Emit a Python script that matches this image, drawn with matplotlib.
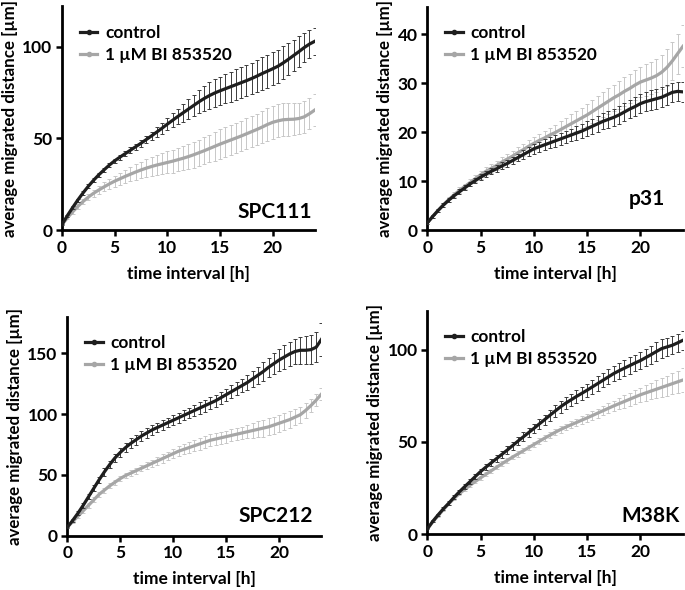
import numpy as np
import matplotlib
matplotlib.use("Agg")
import matplotlib.pyplot as plt
from matplotlib.lines import Line2D

plt.rcParams['font.family'] = ['Lato', 'DejaVu Sans']
plt.rcParams['font.weight'] = 'bold'

time_h = [i * 0.5 for i in range(49)]

spc111_ctrl = [3, 7.8, 12.2, 16.4, 20.3, 23.9, 27.2, 30.2, 32.9, 35.5,
               37.8, 39.8, 41.7, 43.6, 45.5, 47.4, 49.4, 51.4, 53.5, 55.6,
               57.8, 59.9, 62.0, 64.0, 66.0, 68.0, 70.0, 71.8, 73.4, 74.8,
               76.0, 77.1, 78.2, 79.3, 80.4, 81.5, 82.7, 84.0, 85.4, 86.7,
               88.0, 89.4, 91.2, 93.2, 95.3, 97.4, 99.6, 101.5, 103.0]
spc111_ctrl_err = [0.3, 0.5, 0.7, 0.8, 0.9, 1.0, 1.0, 1.1, 1.1, 1.2,
                   1.2, 1.3, 1.4, 1.5, 1.6, 1.8, 2.0, 2.3, 2.6, 3.0,
                   3.4, 3.8, 4.3, 4.8, 5.3, 5.8, 6.3, 6.8, 7.2, 7.5,
                   7.8, 8.0, 8.2, 8.4, 8.5, 8.6, 8.7, 8.8, 8.9, 9.0,
                   9.0, 9.0, 9.0, 8.8, 8.6, 8.3, 8.0, 7.7, 7.5]
spc111_bi = [3, 6.6, 9.9, 12.9, 15.6, 18.0, 20.1, 21.9, 23.6, 25.2,
             26.7, 28.0, 29.3, 30.5, 31.7, 32.8, 33.8, 34.7, 35.5, 36.2,
             36.9, 37.6, 38.4, 39.2, 40.1, 41.1, 42.2, 43.3, 44.5, 45.7,
             46.9, 48.0, 49.1, 50.2, 51.3, 52.5, 53.7, 54.9, 56.2, 57.6,
             58.8, 59.6, 60.2, 60.4, 60.5, 60.9, 61.8, 63.5, 65.5]
spc111_bi_err = [0.3, 0.6, 0.9, 1.2, 1.5, 1.8, 2.0, 2.2, 2.5, 2.8,
                 3.0, 3.3, 3.6, 3.9, 4.2, 4.5, 4.8, 5.1, 5.4, 5.7,
                 6.0, 6.2, 6.4, 6.6, 6.8, 7.0, 7.2, 7.4, 7.6, 7.8,
                 8.0, 8.1, 8.2, 8.3, 8.4, 8.5, 8.6, 8.7, 8.8, 8.9,
                 9.0, 9.0, 9.0, 8.9, 8.8, 8.7, 8.6, 8.6, 8.5]

p31_ctrl = [1.5, 2.8, 4.0, 5.1, 6.1, 7.0, 7.8, 8.6, 9.4, 10.1,
            10.8, 11.4, 12.0, 12.5, 13.1, 13.6, 14.2, 14.8, 15.4, 16.0,
            16.6, 17.0, 17.4, 17.8, 18.2, 18.6, 19.0, 19.4, 19.8, 20.2,
            20.7, 21.2, 21.7, 22.2, 22.6, 23.0, 23.5, 24.1, 24.7, 25.2,
            25.8, 26.2, 26.5, 26.8, 27.1, 27.6, 28.1, 28.3, 28.2]
p31_ctrl_err = [0.2, 0.3, 0.3, 0.4, 0.4, 0.4, 0.5, 0.5, 0.5, 0.5,
                0.6, 0.6, 0.6, 0.7, 0.7, 0.7, 0.8, 0.8, 0.9, 0.9,
                1.0, 1.0, 1.1, 1.1, 1.2, 1.2, 1.3, 1.3, 1.4, 1.4,
                1.5, 1.5, 1.6, 1.6, 1.7, 1.7, 1.8, 1.8, 1.9, 1.9,
                2.0, 2.0, 2.0, 2.0, 2.0, 2.0, 2.0, 2.0, 2.0]
p31_bi = [1.5, 2.8, 4.0, 5.2, 6.2, 7.2, 8.1, 8.9, 9.7, 10.5,
          11.3, 12.0, 12.6, 13.2, 13.9, 14.5, 15.1, 15.8, 16.4, 17.1,
          17.7, 18.3, 18.8, 19.4, 19.9, 20.5, 21.1, 21.7, 22.3, 22.9,
          23.5, 24.2, 24.9, 25.6, 26.3, 27.0, 27.6, 28.3, 28.9, 29.6,
          30.2, 30.6, 31.0, 31.5, 32.2, 33.2, 34.5, 36.0, 37.5]
p31_bi_err = [0.2, 0.3, 0.4, 0.4, 0.5, 0.5, 0.6, 0.6, 0.7, 0.7,
              0.8, 0.8, 0.9, 0.9, 1.0, 1.0, 1.1, 1.1, 1.2, 1.2,
              1.3, 1.3, 1.4, 1.5, 1.6, 1.7, 1.8, 1.9, 2.0, 2.1,
              2.2, 2.3, 2.4, 2.5, 2.6, 2.7, 2.8, 2.9, 3.0, 3.0,
              3.1, 3.2, 3.3, 3.4, 3.5, 3.7, 3.9, 4.1, 4.3]

spc212_ctrl = [7, 12.5, 18.5, 25, 32, 39, 46, 52.5, 58.5, 64,
               68.5, 72.5, 76, 79, 82, 84.5, 87, 89, 91, 93,
               95, 97, 99, 101, 103, 105, 107, 109, 111, 113.5,
               116, 118.5, 121, 123.5, 126, 129, 132, 135, 138.5, 141.5,
               144.5, 147, 149.5, 151.5, 152.5, 152.5, 153, 155, 161.5]
spc212_ctrl_err = [0.5, 1, 1.5, 2, 2, 2.5, 2.5, 3, 3, 3.5,
                   3.5, 4, 4, 4, 4, 4, 4, 4, 4, 4,
                   4, 4, 4.2, 4.4, 4.6, 4.8, 5, 5, 5, 5,
                   5, 5.2, 5.4, 5.6, 6, 6.5, 7, 7.5, 8, 8.5,
                   9, 9.5, 10, 10.5, 11, 11.5, 12, 12.5, 13.5]
spc212_bi = [7, 11.5, 16, 20.5, 25, 29.5, 34, 37.5, 41, 44,
             47, 49.5, 51.5, 53.5, 55.5, 57.5, 59.5, 61.5, 63.5, 65.5,
             67.5, 69.5, 71, 72.5, 74, 75.5, 77, 78.5, 79.5, 80.5,
             81.5, 82.5, 83.5, 84.5, 85.5, 86.5, 87.5, 88.5, 89.5, 91,
             92.5, 94, 95.5, 97.5, 99.5, 103, 107, 111.5, 116.5]
spc212_bi_err = [0.5, 1, 1.5, 2, 2, 2, 2, 2, 2, 2,
                 2, 2, 2.2, 2.4, 2.6, 2.8, 3, 3.2, 3.4, 3.6,
                 3.8, 4, 4.2, 4.4, 4.6, 4.8, 5, 5, 5, 5,
                 5, 5, 5, 5.2, 5.5, 6, 6.5, 7, 7, 7,
                 7, 7, 7, 6.8, 6.5, 6, 5.5, 5, 5]

m38k_ctrl = [3, 7, 10.5, 13.8, 16.8, 20, 23, 25.8, 28.5, 31.3,
             34, 36.4, 38.7, 41, 43.3, 45.6, 48, 50.4, 52.7, 55,
             57.3, 59.7, 62, 64.4, 66.7, 69, 71, 72.8, 74.6, 76.3,
             78, 79.8, 81.6, 83.4, 85.2, 87, 88.5, 89.9, 91.3, 92.7,
             94, 95.6, 97.2, 98.9, 100.5, 101.4, 102.3, 103.6, 105]
m38k_ctrl_err = [0.2, 0.5, 0.7, 0.9, 1, 1.1, 1.2, 1.3, 1.4, 1.5,
                 1.6, 1.7, 1.8, 1.9, 2, 2.1, 2.2, 2.3, 2.4, 2.5,
                 2.6, 2.7, 2.8, 2.9, 3, 3.1, 3.2, 3.3, 3.4, 3.5,
                 3.6, 3.7, 3.8, 3.9, 4, 4.1, 4.2, 4.3, 4.4, 4.5,
                 4.6, 4.7, 4.8, 4.9, 5, 5, 5, 5, 5]
m38k_bi = [3, 6.8, 10, 13.4, 16.5, 19.4, 22, 24.3, 26.5, 28.6,
           30.6, 32.5, 34.4, 36.3, 38.2, 40, 41.8, 43.5, 45.2, 46.9,
           48.6, 50.3, 52, 53.6, 55.2, 56.7, 58, 59.3, 60.5, 61.8,
           63, 64.3, 65.6, 66.9, 68.2, 69.5, 70.7, 71.9, 73.1, 74.3,
           75.5, 76.5, 77.5, 78.5, 79.5, 80.5, 81.5, 82.5, 83.5]
m38k_bi_err = [0.2, 0.4, 0.6, 0.7, 0.8, 0.9, 1, 1, 1, 1,
               1, 1.1, 1.1, 1.2, 1.2, 1.3, 1.3, 1.4, 1.4, 1.5,
               1.5, 1.6, 1.6, 1.7, 1.7, 1.8, 1.8, 1.9, 2, 2.1,
               2.2, 2.3, 2.4, 2.5, 2.7, 2.9, 3.1, 3.3, 3.5, 3.7,
               3.9, 4.2, 4.5, 4.8, 5.1, 5.4, 5.7, 6, 6.3]

panel_names = ["SPC111", "p31", "SPC212", "M38K"]
series_labels = ["control", "1 µM BI 853520"]
x_ticks = [0, 5, 10, 15, 20]
y_ticks = [[0, 50, 100], [0, 10, 20, 30, 40], [0, 50, 100, 150], [0, 50, 100]]
y_max = [122, 45.5, 180, 121]

panels = [
    (spc111_ctrl, spc111_ctrl_err, spc111_bi, spc111_bi_err),
    (p31_ctrl, p31_ctrl_err, p31_bi, p31_bi_err),
    (spc212_ctrl, spc212_ctrl_err, spc212_bi, spc212_bi_err),
    (m38k_ctrl, m38k_ctrl_err, m38k_bi, m38k_bi_err),
]

# axes rectangles in figure fractions [left, bottom, width, height]
rects = [
    [0.0905, 0.610, 0.369, 0.379],
    [0.624, 0.610, 0.373, 0.378],
    [0.0983, 0.092, 0.371, 0.371],
    [0.624, 0.0944, 0.373, 0.379],
]
name_pos = [(0.988, 0.054), (0.93, 0.112), (0.966, 0.064), (0.988, 0.056)]

ctrl_color = "#1e1e1e"
ctrl_err_color = "#3c3c3c"
bi_color = "#a6a6a6"
bi_err_color = "#c8c8c8"

fig = plt.figure(figsize=(6.85, 5.9), dpi=100)
for k, (name, data, rect) in enumerate(zip(panel_names, panels, rects)):
    ctrl, ctrl_err, bi, bi_err = data
    ax = fig.add_axes(rect)
    t = np.array(time_h)
    ax.errorbar(t, bi, yerr=bi_err, color=bi_color, ecolor=bi_err_color,
                elinewidth=0.7, capsize=1.6, capthick=0.7, lw=2.3, zorder=2)
    ax.errorbar(t, ctrl, yerr=ctrl_err, color=ctrl_color, ecolor=ctrl_err_color,
                elinewidth=0.7, capsize=1.6, capthick=0.7, lw=2.3, zorder=3)
    ax.set_xlim(0, 24)
    ax.set_ylim(0, y_max[k])
    ax.set_xticks(x_ticks)
    ax.set_yticks(y_ticks[k])
    for s in ['top', 'right']:
        ax.spines[s].set_visible(False)
    for s in ['left', 'bottom']:
        ax.spines[s].set_linewidth(2.0)
    ax.tick_params(axis='both', direction='out', length=4, width=1.8,
                   labelsize=12.5, pad=3)
    for lab in ax.get_xticklabels() + ax.get_yticklabels():
        lab.set_fontweight('bold')
    ax.set_xlabel("time interval [h]", fontsize=12.5, fontweight='bold', labelpad=7)
    ax.set_ylabel("average migrated distance [µm]", fontsize=12.2,
                  fontweight='bold', labelpad=3)
    ax.text(name_pos[k][0], name_pos[k][1], name, transform=ax.transAxes,
            ha='right', va='baseline', fontsize=15, fontweight='bold')
    handles = [
        Line2D([0], [0], color=ctrl_color, lw=2.3, marker='o', ms=3.0),
        Line2D([0], [0], color=bi_color, lw=2.3, marker='o', ms=3.0),
    ]
    ax.legend(handles, series_labels, loc='upper left',
              bbox_to_anchor=(0.03, 0.965), frameon=False,
              handlelength=1.0, handletextpad=0.45, labelspacing=0.35,
              borderaxespad=0.2, prop={'weight': 'bold', 'size': 12.4})

fig.savefig("out.png", dpi=100)
